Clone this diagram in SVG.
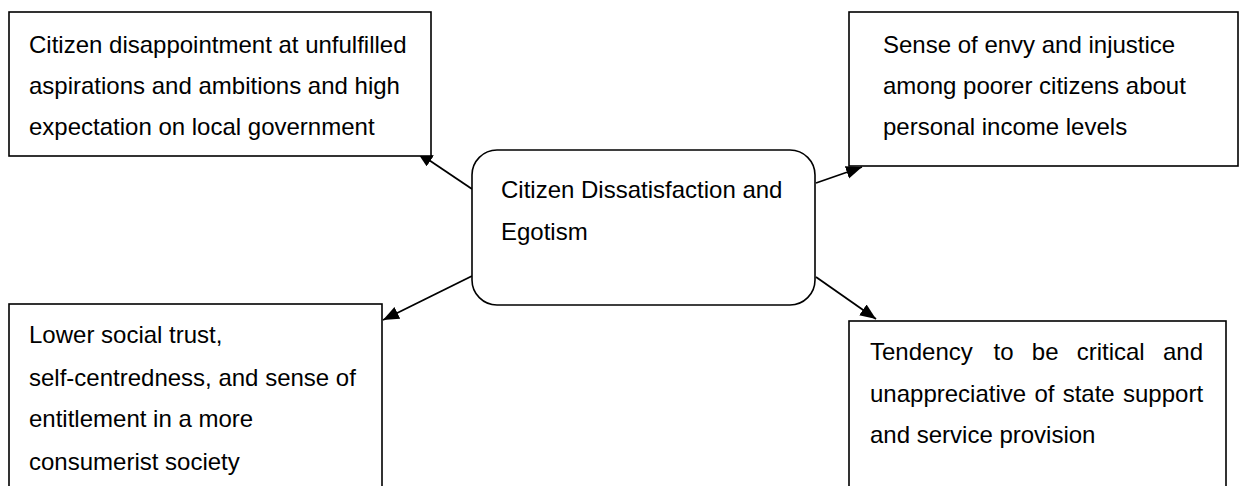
<svg xmlns="http://www.w3.org/2000/svg" width="1239" height="486" viewBox="0 0 1239 486">
<style>
.box{fill:#fff;stroke:#000;stroke-width:1.6}
.t{font-family:"Liberation Sans",Arial,sans-serif;font-size:24px;fill:#000}
.conn{stroke:#000;stroke-width:1.8;fill:none}
</style>
<defs>
<marker id="ah" markerUnits="userSpaceOnUse" markerWidth="18" markerHeight="14" refX="16" refY="6.5" orient="auto">
<path d="M0,0 L16,6.5 L0,13 z" fill="#000"/>
</marker>
</defs>
<rect width="1239" height="486" fill="#fff"/>
<g id="connectors">
<line class="conn" x1="472" y1="189" x2="417" y2="152" marker-end="url(#ah)"/>
<line class="conn" x1="816" y1="183" x2="862" y2="167" marker-end="url(#ah)"/>
<line class="conn" x1="472" y1="276" x2="383" y2="320" marker-end="url(#ah)"/>
<line class="conn" x1="816" y1="277" x2="876" y2="319" marker-end="url(#ah)"/>
</g>
<g id="n-center">
<rect class="box" x="472" y="150" width="343" height="155" rx="25" ry="25"/>
<text class="t" x="501" y="198">Citizen Dissatisfaction and</text>
<text class="t" x="501" y="240">Egotism</text>
</g>
<g id="n-disappointment">
<rect class="box" x="9" y="12" width="422" height="144"/>
<text class="t" x="29" y="53">Citizen disappointment at unfulfilled</text>
<text class="t" x="29" y="94">aspirations and ambitions and high</text>
<text class="t" x="29" y="135">expectation on local government</text>
</g>
<g id="n-envy">
<rect class="box" x="849" y="12" width="389" height="154"/>
<text class="t" x="883" y="53">Sense of envy and injustice</text>
<text class="t" x="883" y="94">among poorer citizens about</text>
<text class="t" x="883" y="135">personal income levels</text>
</g>
<g id="n-trust">
<rect class="box" x="9" y="304" width="373" height="200"/>
<text class="t" x="29" y="343">Lower social trust,</text>
<text class="t" x="29" y="386">self-centredness, and sense of</text>
<text class="t" x="29" y="427">entitlement in a more</text>
<text class="t" x="29" y="470">consumerist society</text>
</g>
<g id="n-critical">
<rect class="box" x="849" y="321" width="377" height="200"/>
<text class="t" y="360"><tspan x="870">Tendency</tspan><tspan x="993.6">to</tspan><tspan x="1031.8">be</tspan><tspan x="1076.7">critical</tspan><tspan x="1163">and</tspan></text>
<text class="t" y="402"><tspan x="870">unappreciative</tspan><tspan x="1034.4">of</tspan><tspan x="1062.7">state</tspan><tspan x="1123">support</tspan></text>
<text class="t" x="870" y="443">and service provision</text>
</g>
</svg>
